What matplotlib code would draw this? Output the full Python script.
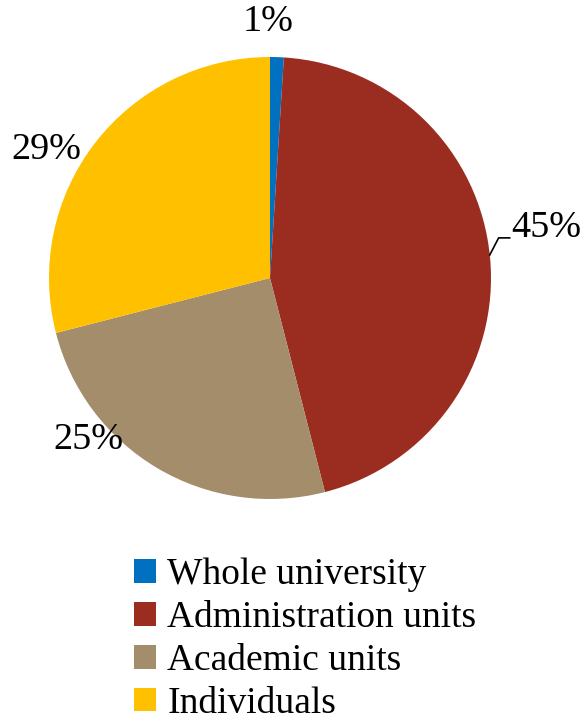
import numpy as np
import matplotlib.pyplot as plt
from matplotlib.patches import Patch

categories = ["Whole university", "Administration units", "Academic units", "Individuals"]
shares = [1, 45, 25, 29]
labels = ["1%", "45%", "25%", "29%"]
colors = ["#0070C0", "#9B2D20", "#A38D6B", "#FFC000"]

# label placement (angle in degrees, distance in radii), like the original layout
label_pos = [(90.5, 1.16), (10.4, 1.27), (-138.3, 1.10), (150.1, 1.165)]

plt.rcParams['font.family'] = ['Liberation Serif', 'DejaVu Serif']

fig = plt.figure(figsize=(5.86, 7.22), dpi=100)
ax = fig.add_axes([49 / 586, 1 - 499 / 722, 442 / 586, 442 / 722])

ax.pie(shares, colors=colors, startangle=90, counterclock=False, radius=1,
       wedgeprops=dict(linewidth=0))

for lab, (ang, dist) in zip(labels, label_pos):
    a = np.deg2rad(ang)
    ax.text(dist * np.cos(a), dist * np.sin(a), lab, ha='center', va='center',
            fontsize=27.5, color='black')

# leader line for the 45% label
a0 = np.deg2rad(6.0)
p0 = (np.cos(a0), np.sin(a0))
p1 = (p0[0] + 0.04, p0[1] + 0.077)
p2 = (p1[0] + 0.05, p1[1])
ax.plot([p0[0], p1[0], p2[0]], [p0[1], p1[1], p2[1]], color='black', lw=1.2,
        clip_on=False)

ax.set_xlim(-1, 1)
ax.set_ylim(-1, 1)
ax.set_aspect('equal')
ax.axis('off')

handles = [Patch(facecolor=c, edgecolor='none') for c in colors]
fig.legend(handles, categories, loc='upper left', bbox_to_anchor=(134 / 586, 1 - 558 / 722),
           frameon=False, fontsize=27, handlelength=0.59, handleheight=0.59,
           handletextpad=0.3, labelspacing=0.22, borderaxespad=0, borderpad=0)

fig.savefig("out.png", dpi=100)
